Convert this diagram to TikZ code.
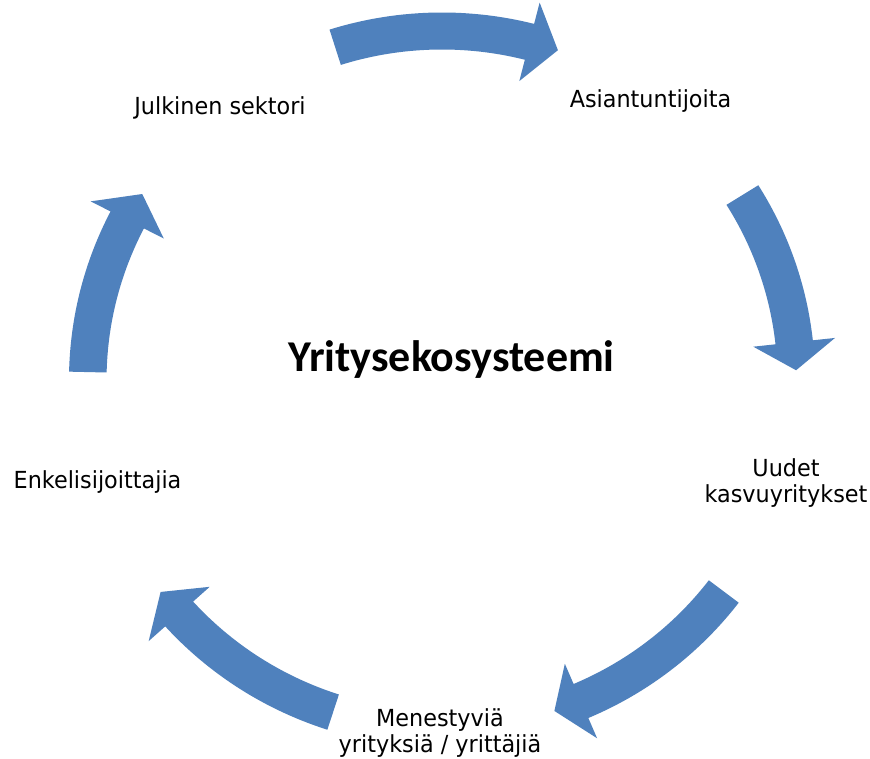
\documentclass[tikz,border=0pt]{standalone}
\usepackage{fontspec}
\newfontfamily\lblfont[FakeStretch=0.95]{DejaVu Sans}
\newfontfamily\titlefont{Carlito}
\definecolor{arrowblue}{HTML}{4F81BD}
% curved block arrow: tail angle, barb angle, tip angle
\newcommand\cyclearrow[3]{%
  \fill[arrowblue] plot[domain=#1:#2,samples=40] ({442+1.015*367.5*cos(\x)},{378+367.5*sin(\x)})
   -- ({442+1.015*389.5*cos(#2)},{378+389.5*sin(#2)})
   -- ({442+1.015*349*cos(#3)},{378+349*sin(#3)})
   -- ({442+1.015*308.5*cos(#2)},{378+308.5*sin(#2)})
   -- plot[domain=#2:#1,samples=40] ({442+1.015*330.5*cos(\x)},{378+330.5*sin(\x)}) -- cycle;}
\begin{document}
\begin{tikzpicture}[x=1pt,y=1pt,
  lbl/.style={anchor=base,inner sep=0pt,align=center,font=\lblfont\fontsize{23.5}{26.3}\selectfont},
  ttl/.style={anchor=base,inner sep=0pt,font=\titlefont\bfseries\fontsize{44}{50}\selectfont}]
\fill[white] (0,0) rectangle (870,758);
\useasboundingbox (0,0) rectangle (870,758);
\cyclearrow{107.55}{75.7}{70.9}
\cyclearrow{32.0}{6.2}{1.6}
\cyclearrow{-37.3}{-66.9}{-71.5}
\cyclearrow{-107.9}{-137.9}{-142.6}
\cyclearrow{178.7}{152.7}{147.8}
\node[lbl] (julkinen) at (220,643.7) {Julkinen sektori};
\node[lbl] (asiant) at (650.5,650.7) {Asiantuntijoita};
\node[lbl] (uudet) at (786,255) {Uudet\\kasvuyritykset};
\node[lbl] (menest) at (440,5.5) {Menestyviä\\yrityksiä / yrittäjiä};
\node[lbl] (enkeli) at (97.5,269.7) {Enkelisijoittajia};
\node[ttl] (title) at (451.5,386) {Yritysekosysteemi};
\end{tikzpicture}
\end{document}
